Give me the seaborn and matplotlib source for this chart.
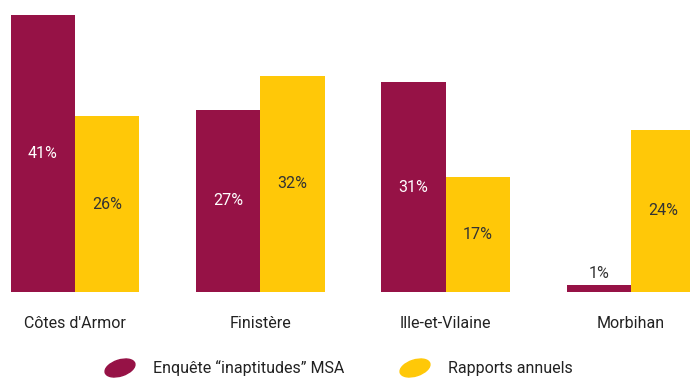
import matplotlib
matplotlib.use("Agg")
import matplotlib.pyplot as plt
from matplotlib.patches import Ellipse
import seaborn as sns
import pandas as pd

departements = ["Côtes d'Armor", "Finistère", "Ille-et-Vilaine", "Morbihan"]
series_names = ["Enquête \u201cinaptitudes\u201d MSA", "Rapports annuels"]
enquete_msa = [41, 27, 31, 1]
rapports_annuels = [26, 32, 17, 24]

colors = ["#961246", "#FFC808"]

df = pd.DataFrame({
    "departement": departements * 2,
    "source": [series_names[0]] * 4 + [series_names[1]] * 4,
    "valeur": enquete_msa + rapports_annuels,
})

sns.set_theme(style="white")
plt.rcParams["font.family"] = ["Roboto", "DejaVu Sans"]

fig = plt.figure(figsize=(6.9, 3.78), dpi=100)
ax = fig.add_axes([0, 86 / 378, 1, 292 / 378])

sns.barplot(data=df, x="departement", y="valeur", hue="source",
            palette=colors, width=0.695, dodge=True, gap=0,
            saturation=1, ax=ax, legend=False, errorbar=None,
            linewidth=0, edgecolor="none")

ax.set_xlim(-0.405, 3.318)
ax.set_ylim(0, 43.2)
for s in ax.spines.values():
    s.set_visible(False)
ax.set_yticks([])
ax.set_xlabel("")
ax.set_ylabel("")
ax.tick_params(axis="x", length=0, pad=17, labelsize=11.5, labelcolor="#222222")

# value labels: centred inside each bar, above it when the bar is too short
for container, txtcol in zip(ax.containers, ["white", "#333333"]):
    for bar in container:
        h = bar.get_height()
        cx = bar.get_x() + bar.get_width() / 2
        if h < 4:
            ax.text(cx, h + 0.6, f"{h:.0f}%", ha="center", va="bottom",
                    color="#333333", fontsize=11.5)
        else:
            ax.text(cx, h / 2, f"{h:.0f}%", ha="center", va="center",
                    color=txtcol, fontsize=11.5)

# legend with tilted ellipse markers
legend_items = [(120, 153), (415, 448)]
for (ex, tx), name, col in zip(legend_items, series_names, colors):
    e = Ellipse((ex, 378 - 368), width=31, height=16, angle=18,
                transform=None, color=col)
    fig.add_artist(e)
    fig.text(tx / 690, 1 - 368 / 378, name, ha="left", va="center",
             fontsize=11.5, color="#222222")

fig.savefig("out.png", dpi=100)
